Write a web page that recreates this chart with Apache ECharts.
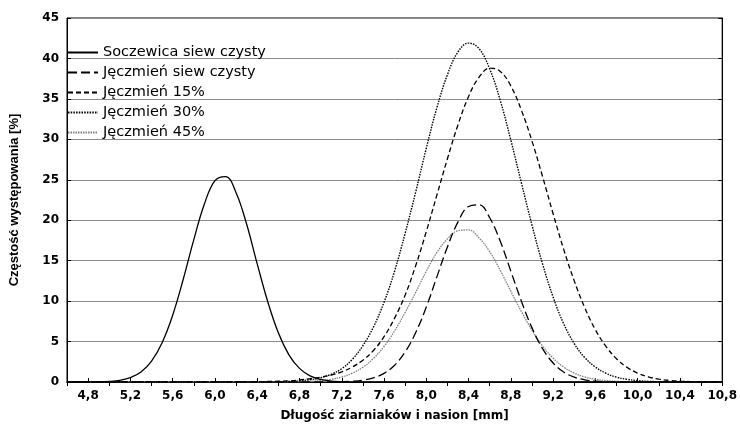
<!DOCTYPE html>
<html>
<head>
<meta charset="utf-8">
<script src="https://cdn.jsdelivr.net/npm/echarts@6/dist/echarts.min.js"></script>
<style>html,body{margin:0;padding:0;background:#fff}#c{width:740px;height:427px}</style>
</head>
<body>
<div id="c"></div>
<script>
// x positions (mm), step 0.1
const xs = [4.6,4.7,4.8,4.9,5.0,5.1,5.2,5.3,5.4,5.5,5.6,5.7,5.8,5.9,6.0,6.1,6.2,6.3,6.4,6.5,
  6.6,6.7,6.8,6.9,7.0,7.1,7.2,7.3,7.4,7.5,7.6,7.7,7.8,7.9,8.0,8.1,8.2,8.3,8.4,8.5,
  8.6,8.7,8.8,8.9,9.0,9.1,9.2,9.3,9.4,9.5,9.6,9.7,9.8,9.9,10.0,10.1,10.2,10.3,10.4,10.5,
  10.6,10.7,10.8];

const seriesNames = ['Soczewica siew czysty','Jęczmień siew czysty','Jęczmień 15%','Jęczmień 30%','Jęczmień 45%'];

const soczewica = [0,0,0.01,0.02,0.07,0.21,0.54,1.23,2.58,4.86,8.26,12.7,17.6,22.0,24.9,25.4,23.4,19.5,14.6,9.92,
  6.08,3.36,1.68,0.76,0.31,0.11,0.04,0.01,0,0,0,0,0,0,0,0,0,0,0,0,
  0,0,0,0,0,0,0,0,0,0,0,0,0,0,0,0,0,0,0,0,0,0,0];

const jeczmienCzysty = [0,0,0,0,0,0,0,0,0,0,0,0,0,0,0,0,0,0,0,0,
  0,0,0,0,0,0,0.03,0.09,0.22,0.51,1.07,2.08,3.72,6.12,9.27,13.0,16.7,19.8,21.7,21.9,
  20.3,17.4,13.7,9.98,6.69,4.13,2.35,1.23,0.60,0.27,0.11,0.04,0.01,0,0,0,0,0,0,0,0,0,0];

const jeczmien15 = [0,0,0,0,0,0,0,0,0,0,0,0,0,0,0,0,0,0,0.03,0.06,
  0.1,0.15,0.25,0.4,0.6,0.85,1.25,1.85,2.7,3.9,5.6,7.9,10.75,14.4,18.6,23.1,27.6,31.8,35.3,37.7,
  38.8,38.4,36.6,33.6,29.8,25.4,20.8,16.4,12.5,9.16,6.46,4.40,2.88,1.81,1.10,0.64,0.36,0.2,0.1,0.05,
  0.02,0.01,0];

const jeczmien30 = [0,0,0,0,0,0,0,0,0,0,0,0,0,0,0,0,0,0,0.01,0.02,
  0.04,0.07,0.14,0.28,0.52,0.95,1.65,2.8,4.5,6.8,9.85,13.7,18.4,23.5,28.9,33.9,38.0,40.8,41.9,41.2,
  38.7,34.8,29.9,24.6,19.4,14.6,10.5,7.2,4.75,3.0,1.85,1.08,0.6,0.33,0.17,0.08,0.04,0.02,0.01,0,
  0,0,0];

const jeczmien45 = [0,0,0,0,0,0,0,0,0,0,0,0,0,0,0,0,0,0,0,0,
  0.01,0.02,0.04,0.08,0.17,0.33,0.62,1.09,1.83,2.91,4.40,6.32,8.61,11.1,13.7,16.0,17.7,18.7,18.8,17.8,
  16.1,13.8,11.2,8.7,6.4,4.45,2.95,1.85,1.1,0.63,0.34,0.17,0.08,0.04,0.02,0.01,0,0,0,0,
  0,0,0];

const xTickValues = [4.8,5.2,5.6,6.0,6.4,6.8,7.2,7.6,8.0,8.4,8.8,9.2,9.6,10.0,10.4,10.8];

const styles = [
  {color:'#000', width:1.3, type:'solid'},
  {color:'#000', width:1.3, type:[9,4]},
  {color:'#000', width:1.3, type:[5,3]},
  {color:'#000', width:1.4, type:[1.5,1.2]},
  {color:'#808080', width:1.3, type:[1.5,1]}
];
const values = [soczewica, jeczmienCzysty, jeczmien15, jeczmien30, jeczmien45];

const chart = echarts.init(document.getElementById('c'), null, {renderer:'canvas'});
const fmt = v => (Math.round(v*10)/10).toFixed(1).replace('.', ',');

chart.setOption({
  animation:false,
  backgroundColor:'#fff',
  grid:{left:60, right:15, top:18, bottom:43, show:true, borderColor:'#000', borderWidth:1, backgroundColor:'transparent'},
  legend:{
    orient:'vertical', left:62, top:40, itemWidth:30, itemHeight:13, itemGap:5,
    data:seriesNames,
    itemStyle:{opacity:0},
    textStyle:{fontFamily:'DejaVu Sans', fontSize:14.5, color:'#000'}
  },
  xAxis:[{
    type:'value', min:4.6, max:10.8, position:'bottom',
    name:'Długość ziarniaków i nasion [mm]', nameLocation:'middle', nameGap:28,
    nameTextStyle:{fontFamily:'DejaVu Sans', fontWeight:'bold', fontSize:12, color:'#000'},
    axisLine:{show:true, lineStyle:{color:'#000', width:1}},
    axisTick:{show:true, inside:true, length:4, customValues:xTickValues, lineStyle:{color:'#000'}},
    axisLabel:{show:true, customValues:xTickValues, formatter:fmt, margin:8,
      fontFamily:'DejaVu Sans', fontWeight:'bold', fontSize:12, color:'#000'},
    splitLine:{show:false}
  },{
    type:'value', min:4.6, max:10.8, interval:0.4, position:'top',
    axisLine:{show:true, lineStyle:{color:'#000'}},
    axisTick:{show:true, inside:true, length:4, lineStyle:{color:'#000'}},
    axisLabel:{show:false}, splitLine:{show:false}
  }],
  yAxis:[{
    type:'value', min:0, max:45, interval:5, position:'left',
    name:'Częstość występowania [%]', nameLocation:'middle', nameGap:46,
    nameTextStyle:{fontFamily:'Liberation Sans', fontWeight:'bold', fontSize:13, color:'#000'},
    axisLine:{show:true, lineStyle:{color:'#000'}},
    axisTick:{show:true, inside:true, length:4, lineStyle:{color:'#000'}},
    axisLabel:{show:true, margin:8, fontFamily:'DejaVu Sans', fontWeight:'bold', fontSize:12, color:'#000'},
    splitLine:{show:true, lineStyle:{color:'#8c8c8c', width:1}}
  },{
    type:'value', min:0, max:45, interval:5, position:'right',
    axisLine:{show:true, lineStyle:{color:'#000'}},
    axisTick:{show:true, inside:true, length:4, lineStyle:{color:'#000'}},
    axisLabel:{show:false}, splitLine:{show:false}
  }],
  series: seriesNames.map((n,i)=>({
    name:n, type:'line', xAxisIndex:0, yAxisIndex:0,
    data: xs.map((x,j)=>[x, values[i][j]]),
    showSymbol:false, symbol:'none', smooth:0.4,
    lineStyle: styles[i], itemStyle:{color: styles[i].color}, z: 5-i
  }))
});
</script>
</body>
</html>
